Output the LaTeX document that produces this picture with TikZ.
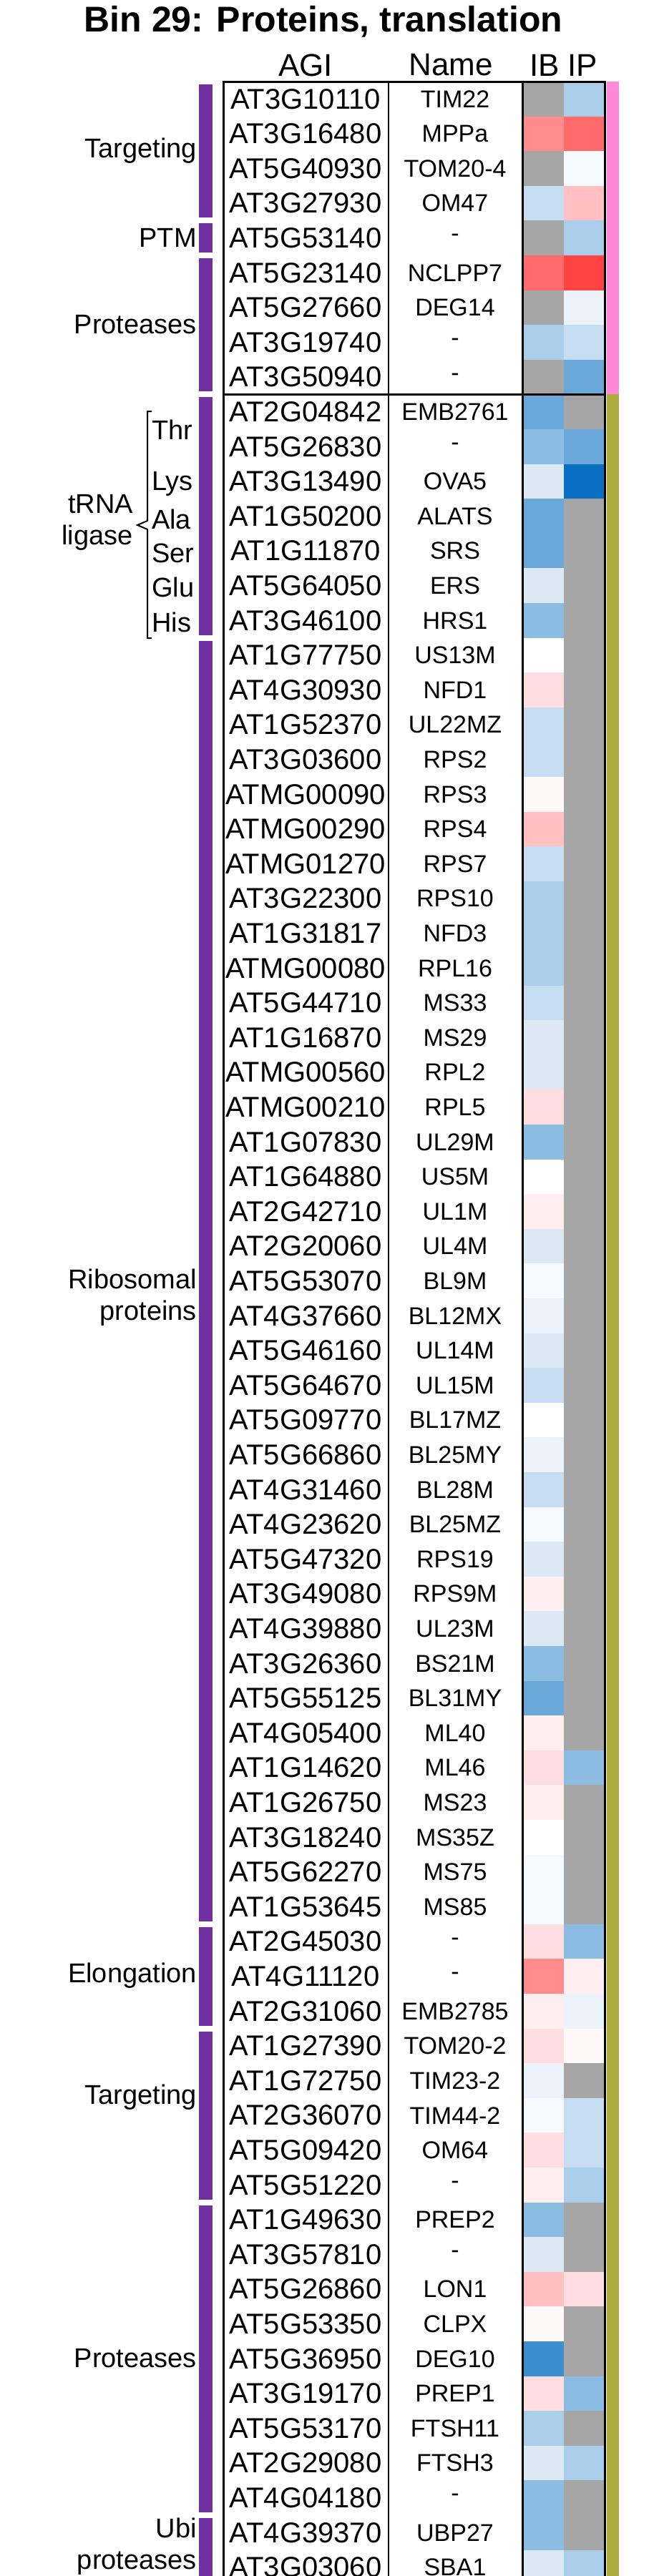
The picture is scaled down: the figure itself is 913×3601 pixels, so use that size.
\documentclass[tikz,border=0pt]{standalone}
\usepackage{fontspec}
\setmainfont{Liberation Sans}
\definecolor{G}{HTML}{A6A6A6}
\definecolor{w}{HTML}{FFFFFF}
\definecolor{bz}{HTML}{F6F9FD}
\definecolor{ba}{HTML}{EBF2FA}
\definecolor{bb}{HTML}{DCE9F5}
\definecolor{bc}{HTML}{C6DCF0}
\definecolor{bd}{HTML}{AACDEA}
\definecolor{be}{HTML}{8DBCE3}
\definecolor{bf}{HTML}{6AA8DA}
\definecolor{bg}{HTML}{3B8ED0}
\definecolor{bh}{HTML}{0A6FC2}
\definecolor{rz}{HTML}{FFF8F8}
\definecolor{ra}{HTML}{FFEEEF}
\definecolor{rb}{HTML}{FFDDE0}
\definecolor{rc}{HTML}{FFBFC3}
\definecolor{rd}{HTML}{FF8C8C}
\definecolor{re}{HTML}{FF6A6A}
\definecolor{rf}{HTML}{FF4242}
\definecolor{purp}{HTML}{7030A0}
\definecolor{pinkstrip}{HTML}{FF88D8}
\definecolor{olive}{HTML}{ABAB3E}
\tikzset{
  agitxt/.style={font=\fontsize{40}{40}\selectfont, inner sep=0pt},
  nametxt/.style={font=\fontsize{34}{34}\selectfont, inner sep=0pt},
  grptxt/.style={font=\fontsize{38}{44}\selectfont, inner sep=0pt, align=right, anchor=east},
  hdr/.style={font=\fontsize{44}{44}\selectfont, inner sep=0pt},
  aatxt/.style={font=\fontsize{38}{38}\selectfont, inner sep=0pt, anchor=west},
  bar/.style={fill=purp, draw=none},
  tline/.style={line width=3pt, black}
}
\begin{document}
\begin{tikzpicture}[x=1pt,y=-1pt]
\useasboundingbox (0,0) rectangle (913,3601);
\fill[white] (0,0) rectangle (913,3601);
\node[font=\bfseries\fontsize{50}{50}\selectfont, inner sep=0pt] (title) at (452,30) {Bin 29: Proteins, translation};
\node[hdr] (hagi) at (427,91) {AGI};
\node[hdr] (hname) at (630,91) {Name};
\node[hdr] (hib) at (761,91) {IB};
\node[hdr] (hip) at (814,91) {IP};
\foreach \a/\n/\cb/\cp [count=\i] in {
AT3G10110/TIM22/G/bd, AT3G16480/MPPa/rd/re, AT5G40930/TOM20-4/G/bz, AT3G27930/OM47/bc/rc,
AT5G53140/-/G/bd, AT5G23140/NCLPP7/re/rf, AT5G27660/DEG14/G/ba, AT3G19740/-/bd/bc, AT3G50940/-/G/bf,
AT2G04842/EMB2761/bf/G, AT5G26830/-/be/bf, AT3G13490/OVA5/bb/bh, AT1G50200/ALATS/bf/G,
AT1G11870/SRS/bf/G, AT5G64050/ERS/bb/G, AT3G46100/HRS1/be/G,
AT1G77750/US13M/w/G, AT4G30930/NFD1/rb/G, AT1G52370/UL22MZ/bc/G, AT3G03600/RPS2/bc/G,
ATMG00090/RPS3/rz/G, ATMG00290/RPS4/rc/G, ATMG01270/RPS7/bc/G, AT3G22300/RPS10/bd/G,
AT1G31817/NFD3/bd/G, ATMG00080/RPL16/bd/G, AT5G44710/MS33/bc/G, AT1G16870/MS29/bb/G,
ATMG00560/RPL2/bb/G, ATMG00210/RPL5/rb/G, AT1G07830/UL29M/be/G, AT1G64880/US5M/w/G,
AT2G42710/UL1M/ra/G, AT2G20060/UL4M/bb/G, AT5G53070/BL9M/bz/G, AT4G37660/BL12MX/ba/G,
AT5G46160/UL14M/bb/G, AT5G64670/UL15M/bc/G, AT5G09770/BL17MZ/w/G, AT5G66860/BL25MY/ba/G,
AT4G31460/BL28M/bc/G, AT4G23620/BL25MZ/bz/G, AT5G47320/RPS19/bb/G, AT3G49080/RPS9M/ra/G,
AT4G39880/UL23M/bb/G, AT3G26360/BS21M/be/G, AT5G55125/BL31MY/bf/G, AT4G05400/ML40/ra/G,
AT1G14620/ML46/rb/be, AT1G26750/MS23/ra/G, AT3G18240/MS35Z/w/G, AT5G62270/MS75/bz/G,
AT1G53645/MS85/bz/G,
AT2G45030/-/rb/be, AT4G11120/-/rd/ra, AT2G31060/EMB2785/ra/ba,
AT1G27390/TOM20-2/rb/rz, AT1G72750/TIM23-2/ba/G, AT2G36070/TIM44-2/bz/bc, AT5G09420/OM64/rb/bc, AT5G51220/-/ra/bd,
AT1G49630/PREP2/be/G, AT3G57810/-/bb/G, AT5G26860/LON1/rc/rb, AT5G53350/CLPX/rz/G,
AT5G36950/DEG10/bg/G, AT3G19170/PREP1/rb/be, AT5G53170/FTSH11/bd/G, AT2G29080/FTSH3/bb/bd,
AT4G04180/-/be/G, AT4G39370/UBP27/be/G, AT3G03060/SBA1/bb/bd}{
  \pgfmathsetmacro{\yt}{114+(\i-1)*48.6}
  \pgfmathsetmacro{\yc}{\yt+24.3}
  \fill[\cb] (730,\yt) rectangle (788,\yt+48.7);
  \fill[\cp] (788,\yt) rectangle (845,\yt+48.7);
  \node[agitxt] (agi\i) at (427,\yc) {\a};
  \node[nametxt] (nm\i) at (636,\yc) {\n};
}
% table lines
\draw[tline] (312,3605) -- (312,114) -- (845,114) -- (845,3605);
\draw[line width=2.2pt] (543,114) -- (543,3605);
\draw[tline] (730,114) -- (730,3605);
\draw[tline] (312,551.4) -- (845,551.4);
% side strip
\fill[pinkstrip] (848,114) rectangle (865,551.4);
\fill[olive] (848,551.4) rectangle (865,3605);
% purple bars
\foreach \s/\e in {1/4,5/5,6/9,10/16,17/53,54/56,57/61,62/70}{
  \fill[bar] (278,{114+(\s-1)*48.6+4}) rectangle (297,{114+\e*48.6-4});
}
\fill[bar] (278,{114+70*48.6+4}) rectangle (297,3605);
% group labels
\node[grptxt] (g1) at (275,211) {Targeting};
\node[grptxt] (g2) at (275,332) {PTM};
\node[grptxt] (g3) at (275,454) {Proteases};
\node[grptxt] (g4) at (186,730) {tRNA\\ligase};
\node[grptxt] (g5) at (275,1814) {Ribosomal\\proteins};
\node[grptxt] (g6) at (275,2762) {Elongation};
\node[grptxt] (g7) at (275,2932) {Targeting};
\node[grptxt] (g8) at (275,3297) {Proteases};
\node[grptxt] (g9) at (275,3560) {Ubi\\proteases};
% amino acids
\node[aatxt] (thr) at (212,601) {Thr};
\node[aatxt] (lys) at (212,676) {Lys};
\node[aatxt] (ala) at (212,726) {Ala};
\node[aatxt] (ser) at (212,773) {Ser};
\node[aatxt] (glu) at (212,821) {Glu};
\node[aatxt] (his) at (212,870) {His};
\coordinate (btop) at (212,575);
\coordinate (bbot) at (212,892);
\coordinate (btip) at (192,734);
\draw[line width=2pt] (btop) -- (206,575) -- (206,728) -- (btip) -- (206,740) -- (206,892) -- (bbot);
\end{tikzpicture}
\end{document}
